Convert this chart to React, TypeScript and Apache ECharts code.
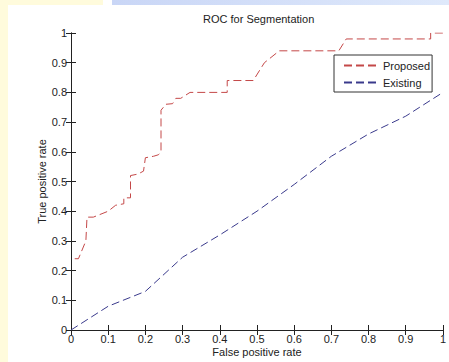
import React, { useEffect, useRef } from "react";
import * as echarts from "echarts";

const titleText = "ROC for Segmentation";
const xName = "False positive rate";
const yName = "True positive rate";
const seriesNames = ["Proposed", "Existing"];

const proposedX = [0.01, 0.02, 0.04, 0.043, 0.06, 0.1, 0.12, 0.142, 0.142, 0.16, 0.16, 0.18, 0.195, 0.2, 0.222, 0.235, 0.242, 0.242, 0.255, 0.273, 0.282, 0.295, 0.32, 0.42, 0.42, 0.49, 0.52, 0.56, 0.72, 0.74, 0.967, 0.967, 1.0];
const proposedY = [0.24, 0.24, 0.30, 0.38, 0.38, 0.40, 0.42, 0.425, 0.445, 0.445, 0.52, 0.525, 0.535, 0.58, 0.585, 0.59, 0.60, 0.74, 0.76, 0.762, 0.78, 0.78, 0.80, 0.80, 0.84, 0.84, 0.90, 0.94, 0.94, 0.98, 0.98, 1.0, 1.0];

const existingX = [0.0, 0.1, 0.2, 0.3, 0.4, 0.5, 0.6, 0.7, 0.8, 0.9, 1.0];
const existingY = [0.0, 0.08, 0.13, 0.245, 0.32, 0.40, 0.49, 0.585, 0.66, 0.72, 0.80];

const FONT = "'Liberation Sans', Arial, sans-serif";
const RED = "#c44848";
const BLUE = "#3a3a8c";

export default function App() {
  const ref = useRef<HTMLDivElement>(null);
  useEffect(() => {
    const chart = echarts.init(ref.current!, null, { renderer: "svg" });
    const proposed = proposedX.map((x, i) => [x, proposedY[i]]);
    const existing = existingX.map((x, i) => [x, existingY[i]]);
    const axisCommon = {
      type: "value",
      min: 0,
      max: 1,
      interval: 0.1,
      splitLine: { show: false },
      axisLine: { show: true, lineStyle: { color: "#222", width: 1 } },
      axisTick: { show: true, inside: true, length: 5, lineStyle: { color: "#222" } },
    };
    chart.setOption({
      animation: false,
      backgroundColor: "#fff",
      graphic: [
        { type: "rect", shape: { x: 0, y: 0, width: 103, height: 5 }, style: { fill: "#fffbdc" }, z: -10 },
        { type: "rect", shape: { x: 0, y: 0, width: 8, height: 362 }, style: { fill: "#fffbdc" }, z: -10 },
        {
          type: "rect",
          shape: { x: 112, y: 0, width: 337, height: 5 },
          style: {
            fill: new echarts.graphic.LinearGradient(0, 0, 1, 0, [
              { offset: 0, color: "#c9d6f6" },
              { offset: 1, color: "#dfe9fb" },
            ]),
          },
          z: -10,
        },
      ],
      title: {
        text: titleText,
        left: 203,
        top: 13,
        padding: 0,
        textStyle: { fontSize: 11, fontWeight: "normal", color: "#222", fontFamily: FONT },
      },
      legend: {
        data: seriesNames,
        orient: "vertical",
        left: 334,
        top: 55,
        padding: [5, 2, 4, 9],
        itemGap: 6,
        itemWidth: 34,
        itemHeight: 2,
        itemTextGap: 2,
        itemStyle: { opacity: 0 },
        borderColor: "#333",
        borderWidth: 1,
        borderRadius: 0,
        backgroundColor: "#fff",
        textStyle: { fontSize: 11, color: "#222", fontFamily: FONT },
      },
      grid: { left: 71, top: 33, right: 2, bottom: 32, containLabel: false },
      xAxis: [
        {
          ...axisCommon,
          position: "bottom",
          axisLabel: { margin: 3, fontSize: 11, color: "#222", fontFamily: FONT },
          name: xName,
          nameLocation: "middle",
          nameGap: 16,
          nameMoveOverlap: false,
          nameTextStyle: { fontSize: 11, color: "#222", fontFamily: FONT },
        },
        { ...axisCommon, position: "top", axisLabel: { show: false } },
      ],
      yAxis: [
        {
          ...axisCommon,
          position: "left",
          axisLabel: { margin: 4, fontSize: 11, color: "#222", fontFamily: FONT },
          name: yName,
          nameLocation: "middle",
          nameGap: 24,
          nameMoveOverlap: false,
          nameTextStyle: { fontSize: 11, color: "#222", fontFamily: FONT },
        },
        { ...axisCommon, position: "right", axisLabel: { show: false } },
      ],
      series: [
        {
          name: seriesNames[0],
          type: "line",
          xAxisIndex: 0,
          yAxisIndex: 0,
          data: proposed,
          symbol: "none",
          lineStyle: { color: RED, width: 1, type: [8, 4] },
          itemStyle: { color: RED },
        },
        {
          name: seriesNames[1],
          type: "line",
          xAxisIndex: 0,
          yAxisIndex: 0,
          data: existing,
          symbol: "none",
          lineStyle: { color: BLUE, width: 1, type: [8, 4] },
          itemStyle: { color: BLUE },
        },
      ],
    });
    return () => chart.dispose();
  }, []);
  return (
    <div
      ref={ref}
      style={{ position: "fixed", left: 0, top: 0, width: 449, height: 362, background: "#fff" }}
    />
  );
}
